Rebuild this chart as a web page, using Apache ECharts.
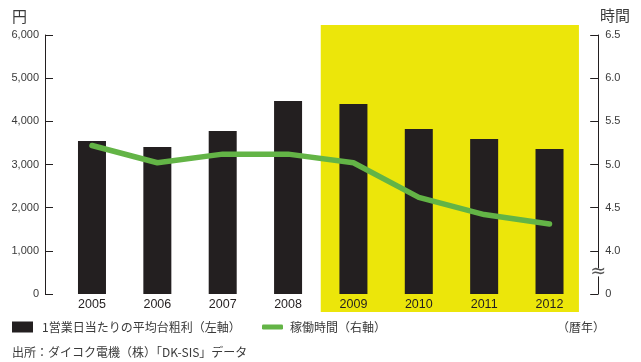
<!DOCTYPE html>
<html>
<head>
<meta charset="utf-8">
<script src="https://cdn.jsdelivr.net/npm/echarts@6/dist/echarts.min.js"></script>
<style>
  html, body { margin: 0; padding: 0; background: #fff; }
  #chart { width: 641px; height: 362px; }
</style>
</head>
<body>
<div id="chart"></div>
<script>
// Calendar years on the category axis
const years = ['2005', '2006', '2007', '2008', '2009', '2010', '2011', '2012'];
// Average gross profit per machine per business day (yen, left axis)
const grossProfit = [3544, 3405, 3776, 4471, 4401, 3822, 3591, 3359];
// Operating hours (hours, right axis)
const operatingHours = [5.22, 5.02, 5.12, 5.12, 5.02, 4.62, 4.42, 4.31];
// Right-axis tick labels from the bottom (broken axis: 0, then 4.0 upward)
const hourTickLabels = ['0', '4.0', '4.5', '5.0', '5.5', '6.0', '6.5'];
// Years shaded as the highlighted period
const highlightFrom = '2009';
const highlightTo = '2012';

const barName = '1営業日当たりの平均台粗利（左軸）';
const lineName = '稼働時間（右軸）';

const INK = '#231F20';
const TEXT = '#3a3a3a';
const YELLOW = '#ECE60A';
const GREEN = '#63B446';
const CJK = '"Noto Sans CJK JP", "Noto Sans", sans-serif';
const NUM = '"Liberation Sans", Arial, sans-serif';

const chart = echarts.init(document.getElementById('chart'));

const option = {
  animation: false,
  backgroundColor: '#fff',
  grid: { left: 59.3, right: 58.8, top: 35, bottom: 68 },
  legend: [
    {
      data: [{ name: barName, icon: 'path://M0 0H21V11H0Z' }],
      left: 12, top: 321, padding: 0,
      itemWidth: 21, itemHeight: 11,
      selectedMode: false,
      textStyle: { color: TEXT, fontSize: 12, fontFamily: CJK, padding: [0, 0, 0, 4] }
    },
    {
      data: [{ name: lineName, icon: 'roundRect' }],
      left: 262, top: 321, padding: 0,
      itemWidth: 21, itemHeight: 5,
      selectedMode: false,
      textStyle: { color: TEXT, fontSize: 12, fontFamily: CJK, padding: [0, 0, 0, 2] }
    }
  ],
  xAxis: {
    type: 'category',
    data: years,
    axisLine: { show: false },
    axisTick: { show: false },
    axisLabel: { color: INK, fontSize: 12.5, fontFamily: NUM, margin: 4 }
  },
  yAxis: [
    {
      type: 'value',
      position: 'left',
      offset: 14.3,
      min: 0, max: 6000, interval: 1000,
      splitLine: { show: false },
      axisLine: { show: true, lineStyle: { color: INK, width: 1 } },
      axisTick: { show: true, inside: true, length: 8, lineStyle: { color: INK, width: 1 } },
      axisLabel: {
        color: TEXT, fontSize: 11, fontFamily: NUM, margin: 6,
        formatter: v => v.toLocaleString('en-US')
      }
    },
    {
      type: 'value',
      position: 'right',
      offset: 16,
      min: 3.5, max: 6.5, interval: 0.5,
      splitLine: { show: false },
      axisLine: { show: true, lineStyle: { color: INK, width: 1 } },
      axisTick: { show: true, inside: true, length: 8, lineStyle: { color: INK, width: 1 } },
      axisLabel: {
        color: TEXT, fontSize: 11, fontFamily: NUM, margin: 7,
        formatter: v => hourTickLabels[Math.round((v - 3.5) / 0.5)]
      }
    }
  ],
  series: [
    {
      name: barName,
      type: 'bar',
      yAxisIndex: 0,
      data: grossProfit,
      barWidth: 28,
      itemStyle: { color: INK },
      z: 2
    },
    {
      name: lineName,
      type: 'line',
      yAxisIndex: 1,
      data: operatingHours,
      symbol: 'none',
      showSymbol: false,
      lineStyle: { color: GREEN, width: 5.5, cap: 'round', join: 'round' },
      itemStyle: { color: GREEN },
      z: 3
    }
  ]
};

chart.setOption(option);

// Shaded period, axis break mark and free-standing captions
const band = chart.convertToPixel({ xAxisIndex: 0 }, years[1]) - chart.convertToPixel({ xAxisIndex: 0 }, years[0]);
const xStart = chart.convertToPixel({ xAxisIndex: 0 }, highlightFrom) - band / 2;
const xEnd = chart.convertToPixel({ xAxisIndex: 0 }, highlightTo) + band * 0.45;
const yTop = chart.convertToPixel({ yAxisIndex: 0 }, 6000) - 10;
const yBottom = chart.convertToPixel({ yAxisIndex: 0 }, 0) + 18;
const rightAxisX = chart.getWidth() - 58.8 + 16;
const breakY = chart.convertToPixel({ yAxisIndex: 1 }, 3.75);

chart.setOption({
  graphic: [
    {
      type: 'rect', z: -1, silent: true,
      shape: { x: xStart, y: yTop, width: xEnd - xStart, height: yBottom - yTop },
      style: { fill: YELLOW }
    },
    {
      type: 'rect', z: 9, silent: true,
      shape: { x: rightAxisX - 1.5, y: breakY - 4, width: 3, height: 8 },
      style: { fill: '#fff' }
    },
    {
      type: 'text', z: 10, silent: true,
      x: rightAxisX, y: breakY,
      style: {
        text: '≈', fill: '#555', fontSize: 19, fontFamily: '"DejaVu Sans", sans-serif',
        align: 'center', verticalAlign: 'middle'
      }
    },
    {
      type: 'text', silent: true, x: 12, y: 16,
      style: { text: '円', fill: TEXT, fontSize: 15, fontFamily: CJK, verticalAlign: 'middle' }
    },
    {
      type: 'text', silent: true, x: 600, y: 15,
      style: { text: '時間', fill: TEXT, fontSize: 15, fontFamily: CJK, verticalAlign: 'middle' }
    },
    {
      type: 'text', silent: true, x: 605, y: 327,
      style: { text: '（暦年）', fill: TEXT, fontSize: 12, fontFamily: CJK, align: 'right', verticalAlign: 'middle' }
    },
    {
      type: 'text', silent: true, x: 12, y: 352,
      style: { text: '出所：ダイコク電機（株）「DK-SIS」データ', fill: TEXT, fontSize: 12, fontFamily: CJK, verticalAlign: 'middle' }
    }
  ]
});
</script>
</body>
</html>
